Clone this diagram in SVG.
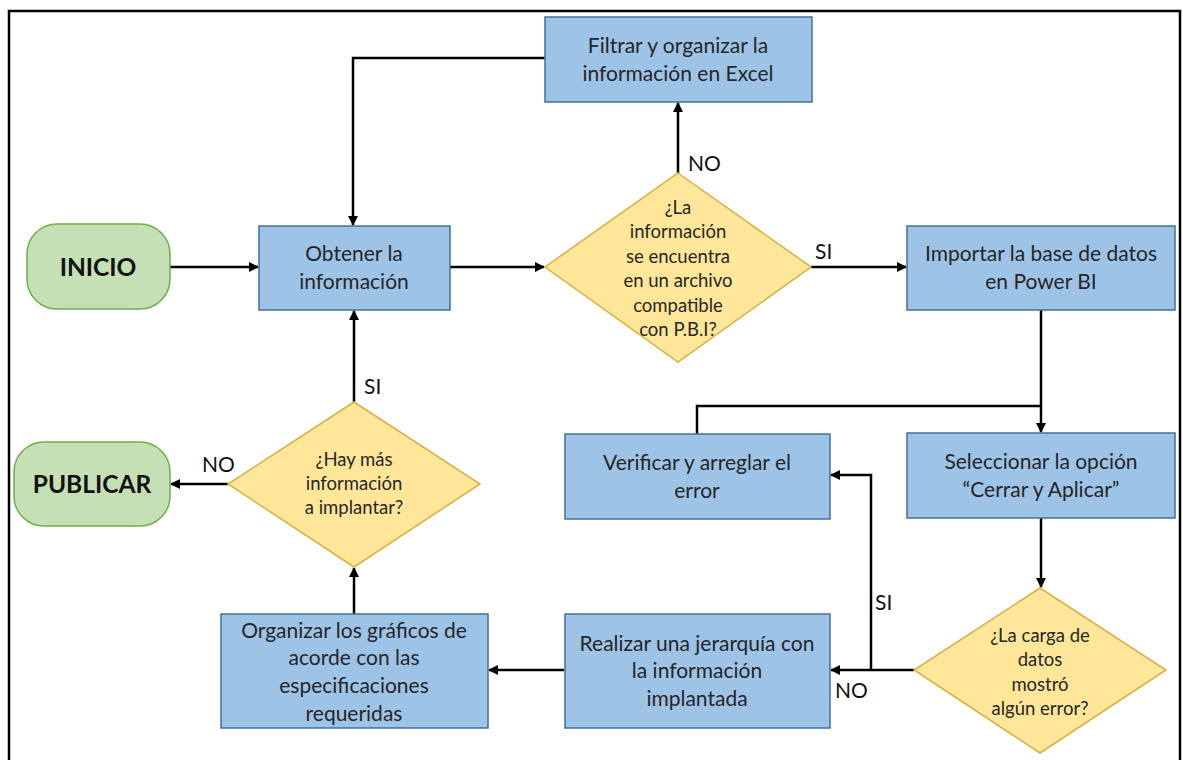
<svg xmlns="http://www.w3.org/2000/svg" width="1183" height="760" viewBox="0 0 1183 760">
<style>
.frame{fill:none;stroke:#000;stroke-width:2.5}
.box{fill:#9dc3e6;stroke:#41719c;stroke-width:1.5}
.dec{fill:#ffe699;stroke:#d6b040;stroke-width:1.5}
.term{fill:#c5e0b4;stroke:#70ad47;stroke-width:1.5}
.t{font-family:Lato,"Liberation Sans",sans-serif;font-size:21px;fill:#262626;text-anchor:middle}
.d{font-family:Lato,"Liberation Sans",sans-serif;font-size:18.5px;fill:#262626;text-anchor:middle}
.b{font-family:Lato,"Liberation Sans",sans-serif;font-size:24.5px;font-weight:bold;fill:#111;text-anchor:middle}
.lbl{font-family:Lato,"Liberation Sans",sans-serif;font-size:21px;fill:#111}
.c{fill:none;stroke:#000;stroke-width:2.5}
.a{marker-end:url(#ah)}
</style>
<defs>
<marker id="ah" viewBox="0 0 10 10" refX="9" refY="5" markerWidth="4" markerHeight="4" orient="auto" markerUnits="strokeWidth">
<path d="M0,0 L10,5 L0,10 z" fill="#000"/>
</marker>
</defs>
<rect width="1183" height="760" fill="#fff"/>
<path class="frame" d="M9,762 V11 H1180 V762"/>

<g id="connectors">
<path class="c a" d="M170,267 H258"/>
<path class="c a" d="M450,267 H544"/>
<path class="c a" d="M811,267 H906"/>
<path class="c a" d="M678,173 V103"/>
<path class="c a" d="M545,58 H353 V225"/>
<path class="c a" d="M1041,310 V432"/>
<path class="c" d="M697,434 V406 H1041"/>
<path class="c a" d="M1041,518 V587"/>
<path class="c a" d="M914,670 H831"/>
<path class="c a" d="M871,670 V475 H831"/>
<path class="c a" d="M564,670 H489"/>
<path class="c a" d="M354,614 V568"/>
<path class="c a" d="M354,402 V311"/>
<path class="c a" d="M228,484 H171"/>
<text class="lbl" x="688" y="171">NO</text>
<text class="lbl" x="815" y="259">SI</text>
<text class="lbl" x="364" y="394">SI</text>
<text class="lbl" x="202" y="472">NO</text>
<text class="lbl" x="875" y="610">SI</text>
<text class="lbl" x="835" y="698">NO</text>
</g>

<g id="inicio">
<rect class="term" x="27" y="224" width="143" height="85" rx="30"/>
<text class="b" x="98" y="276">INICIO</text>
</g>
<g id="obtener">
<rect class="box" x="259" y="226" width="191" height="84"/>
<text class="t" x="354" y="261">Obtener la</text>
<text class="t" x="354" y="289">información</text>
</g>
<g id="filtrar">
<rect class="box" x="545" y="17" width="267" height="85"/>
<text class="t" x="678" y="53">Filtrar y organizar la</text>
<text class="t" x="678" y="81">información en Excel</text>
</g>
<g id="decision-compatible">
<polygon class="dec" points="678,173 811,267 678,362 545,267"/>
<text class="d" x="678" y="214">¿La</text>
<text class="d" x="678" y="238">información</text>
<text class="d" x="678" y="263">se encuentra</text>
<text class="d" x="678" y="287">en un archivo</text>
<text class="d" x="678" y="312">compatible</text>
<text class="d" x="678" y="336">con P.B.I?</text>
</g>
<g id="importar">
<rect class="box" x="907" y="226" width="268" height="84"/>
<text class="t" x="1041" y="261">Importar la base de datos</text>
<text class="t" x="1041" y="289">en Power BI</text>
</g>
<g id="seleccionar">
<rect class="box" x="907" y="433" width="268" height="85"/>
<text class="t" x="1041" y="469">Seleccionar la opción</text>
<text class="t" x="1041" y="497">“Cerrar y Aplicar”</text>
</g>
<g id="verificar">
<rect class="box" x="565" y="434" width="265" height="85"/>
<text class="t" x="697" y="470">Verificar y arreglar el</text>
<text class="t" x="697" y="498">error</text>
</g>
<g id="decision-error">
<polygon class="dec" points="1040,588 1166,670 1040,753 914,670"/>
<text class="d" x="1040" y="642">¿La carga de</text>
<text class="d" x="1040" y="666">datos</text>
<text class="d" x="1040" y="691">mostró</text>
<text class="d" x="1040" y="715">algún error?</text>
</g>
<g id="realizar">
<rect class="box" x="565" y="614" width="265" height="114"/>
<text class="t" x="697" y="651">Realizar una jerarquía con</text>
<text class="t" x="697" y="678">la información</text>
<text class="t" x="697" y="706">implantada</text>
</g>
<g id="organizar">
<rect class="box" x="221" y="614" width="267" height="114"/>
<text class="t" x="354" y="638">Organizar los gráficos de</text>
<text class="t" x="354" y="665">acorde con las</text>
<text class="t" x="354" y="693">especificaciones</text>
<text class="t" x="354" y="721">requeridas</text>
</g>
<g id="decision-mas">
<polygon class="dec" points="354,402 480,484 354,567 228,484"/>
<text class="d" x="354" y="466">¿Hay más</text>
<text class="d" x="354" y="490">información</text>
<text class="d" x="354" y="514">a implantar?</text>
</g>
<g id="publicar">
<rect class="term" x="14" y="442" width="156" height="84" rx="30"/>
<text class="b" x="92" y="493">PUBLICAR</text>
</g>
</svg>
